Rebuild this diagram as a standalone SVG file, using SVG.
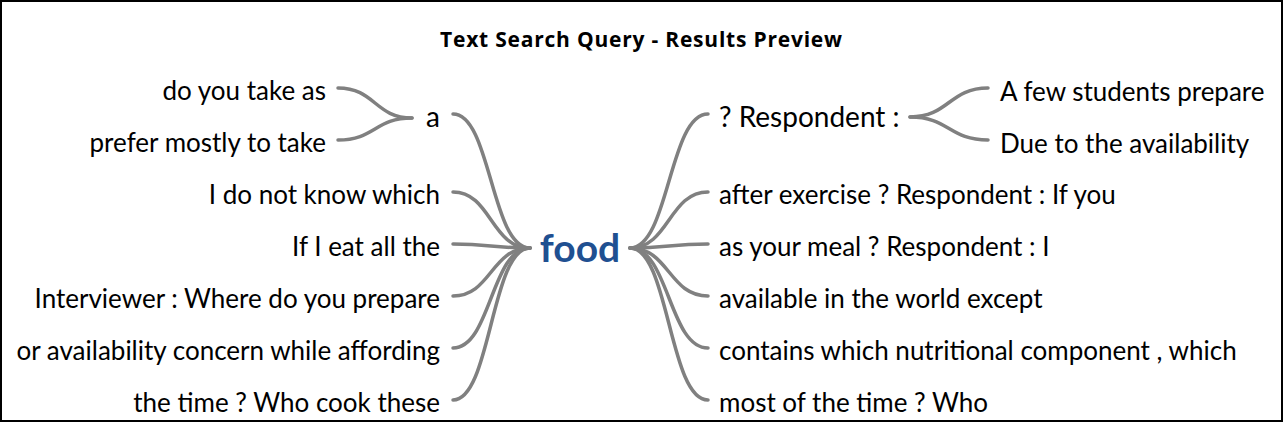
<svg xmlns="http://www.w3.org/2000/svg" width="1283" height="422" viewBox="0 0 1283 422">
<style>
.t{font-family:Lato,"Liberation Sans",sans-serif;font-size:26px;fill:#000}
.b{font-size:28px}
.l{text-anchor:end}
.title{font-family:"Open Sans","Liberation Sans",sans-serif;font-size:21px;font-weight:bold;fill:#000}
.root{font-family:Lato,"Liberation Sans",sans-serif;font-size:39px;font-weight:bold;fill:#1f5091;text-anchor:middle}
.c{fill:none;stroke:#808080;stroke-width:3.5;stroke-linecap:round}
</style>
<rect x="1" y="1" width="1281" height="420" fill="#fff" stroke="#000" stroke-width="2"/>
<text class="title" x="440" y="47" textLength="402" lengthAdjust="spacing">Text Search Query - Results Preview</text>
<g id="connectors">
<path class="c" d="M338,88 C375,88 375,118 412,118"/>
<path class="c" d="M338,140 C375,140 375,118 412,118"/>
<path class="c" d="M453,114 C491,114 491,248 530,248"/>
<path class="c" d="M453,192 C491,192 491,248 530,248"/>
<path class="c" d="M453,244 C491,244 491,248 530,248"/>
<path class="c" d="M453,296 C491,296 491,248 530,248"/>
<path class="c" d="M453,348 C491,348 491,248 530,248"/>
<path class="c" d="M453,400 C491,400 491,248 530,248"/>
<path class="c" d="M630,248 C669,248 669,114 708,114"/>
<path class="c" d="M630,248 C669,248 669,192 708,192"/>
<path class="c" d="M630,248 C669,248 669,244 708,244"/>
<path class="c" d="M630,248 C669,248 669,296 708,296"/>
<path class="c" d="M630,248 C669,248 669,348 708,348"/>
<path class="c" d="M630,248 C669,248 669,400 708,400"/>
<path class="c" d="M910,117 C949,117 949,88 988,88"/>
<path class="c" d="M910,117 C949,117 949,140 988,140"/>
</g>
<g id="root"><text class="root" x="580" y="262">food</text></g>
<g id="l-a"><text class="t b l" x="440" y="127">a</text></g>
<g id="l-a-1"><text class="t l" x="326" y="100">do you take as</text></g>
<g id="l-a-2"><text class="t l" x="326" y="152">prefer mostly to take</text></g>
<g id="l-3"><text class="t l" x="440" y="204">I do not know which</text></g>
<g id="l-4"><text class="t l" x="440" y="256">If I eat all the</text></g>
<g id="l-5"><text class="t l" x="440" y="308">Interviewer : Where do you prepare</text></g>
<g id="l-6"><text class="t l" x="440" y="360">or availability concern while affording</text></g>
<g id="l-7"><text class="t l" x="440" y="412">the time ? Who cook these</text></g>
<g id="r-1"><text class="t b" x="719" y="127">? Respondent :</text></g>
<g id="r-1-1"><text class="t" x="1000" y="101">A few students prepare</text></g>
<g id="r-1-2"><text class="t" x="1000" y="153">Due to the availability</text></g>
<g id="r-2"><text class="t" x="719" y="204">after exercise ? Respondent : If you</text></g>
<g id="r-3"><text class="t" x="719" y="256">as your meal ? Respondent : I</text></g>
<g id="r-4"><text class="t" x="719" y="308">available in the world except</text></g>
<g id="r-5"><text class="t" x="719" y="360">contains which nutritional component , which</text></g>
<g id="r-6"><text class="t" x="719" y="412">most of the time ? Who</text></g>
</svg>
